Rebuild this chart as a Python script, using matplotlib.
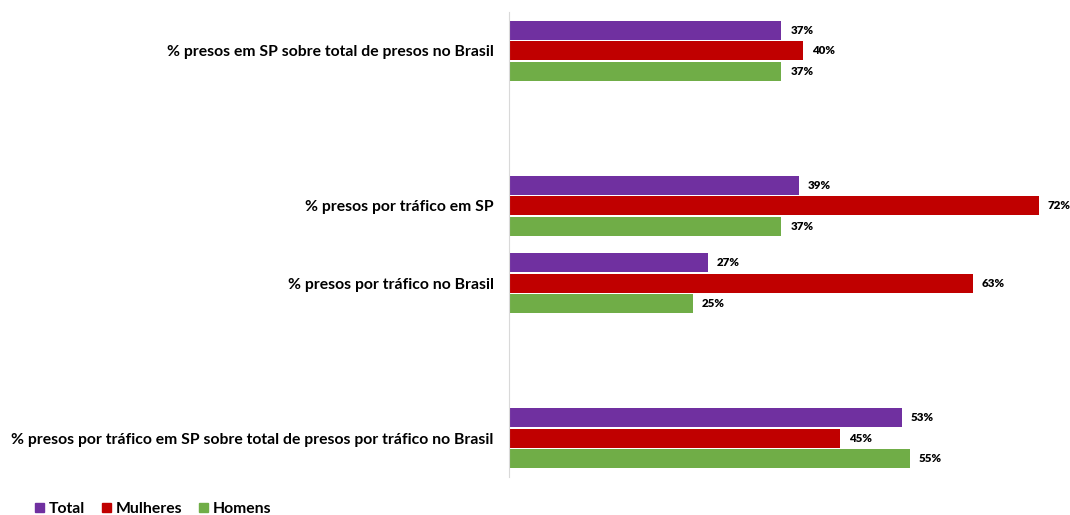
import numpy as np
import matplotlib
matplotlib.use('Agg')
import matplotlib.pyplot as plt
from matplotlib.patches import Patch

plt.rcParams['font.family'] = ['Lato', 'DejaVu Sans']

categories = ['% presos em SP sobre total de presos no Brasil',
              '',
              '% presos por tráfico em SP',
              '% presos por tráfico no Brasil',
              '',
              '% presos por tráfico em SP sobre total de presos por tráfico no Brasil']
series = ['Total', 'Mulheres', 'Homens']
total = [0.37, None, 0.394, 0.27, None, 0.534]
mulheres = [0.40, None, 0.72, 0.63, None, 0.45]
homens = [0.37, None, 0.37, 0.25, None, 0.545]
colors = ['#7030A0', '#C00000', '#70AD47']

fig = plt.figure(figsize=(10.70, 5.15), dpi=100)
ax = fig.add_axes([509 / 1070, 1 - 477 / 515, 561 / 1070, 465 / 515])

y = np.arange(len(categories))
step = 0.265
for i, (vals, c) in enumerate(zip([total, mulheres, homens], colors)):
    for j, v in enumerate(vals):
        if v is None:
            continue
        yy = y[j] + (i - 1) * step
        ax.barh(yy, v, height=0.245, color=c)
        ax.text(v + 0.012, yy, f'{v:.0%}', va='center', ha='left',
                fontsize=8.3, fontweight='heavy', color='#000000')

ax.set_ylim(len(categories) - 0.5, -0.5)
ax.set_xlim(0, 0.762)
ax.set_yticks(y)
ax.set_yticklabels(categories, fontsize=11.3, fontweight='bold')
ax.tick_params(axis='y', length=0, pad=11)
ax.set_xticks([])
for s in ['top', 'right', 'bottom']:
    ax.spines[s].set_visible(False)
ax.spines['left'].set_color('#D9D9D9')

handles = [Patch(color=c, label=s) for s, c in zip(series, colors)]
fig.legend(handles=handles, loc='center left', bbox_to_anchor=(21 / 1070, 1 - 509 / 515),
           ncol=3, frameon=False, prop={'size': 11.3, 'weight': 'bold'},
           handlelength=0.55, handleheight=0.55, handletextpad=0.3, columnspacing=1.1)

fig.savefig('out.png', dpi=100)
